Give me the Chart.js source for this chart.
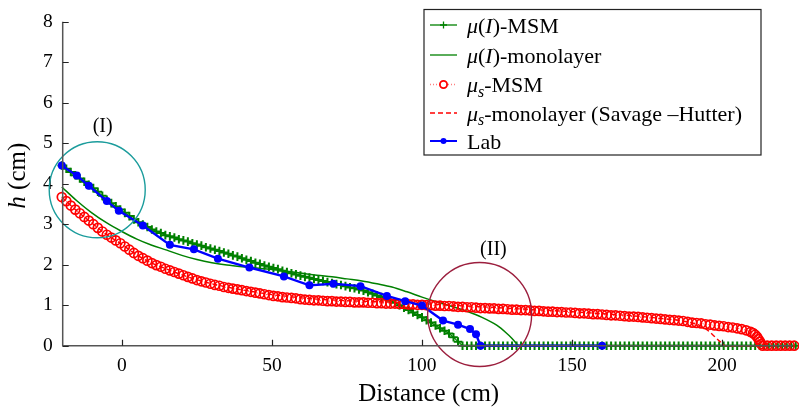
<!DOCTYPE html>
<html><head><meta charset="utf-8">
<script src="https://cdn.jsdelivr.net/npm/chart.js@4.4.1/dist/chart.umd.min.js"></script>
<style>html,body{margin:0;padding:0;background:#fff;overflow:hidden}</style>
</head><body>
<canvas id="c" width="799" height="408" style="width:799px;height:408px;display:block"></canvas>
<script>
// ---------- data ----------
const xTicks = [0, 50, 100, 150, 200];
const yTicks = [0, 1, 2, 3, 4, 5, 6, 7, 8];

// mu(I)-MSM
const muIMsmX = [
-20,-18.5,-17,-15.5,-14,-12.5,-11,-9.5,-8,-6.5,
-5,-3.5,-2,-0.5,1,2.5,4,5.5,7,8.5,
10,11.5,13,14.5,16,17.5,19,20.5,22,23.5,
25,26.5,28,29.5,31,32.5,34,35.5,37,38.5,
40,41.5,43,44.5,46,47.5,49,50.5,52,53.5,
55,56.5,58,59.5,61,62.5,64,65.5,67,68.5,
70,71.5,73,74.5,76,77.5,79,80.5,82,83.5,
85,86.5,88,89.5,91,92.5,94,95.5,97,98.5,
100,101.5,103,104.5,106,107.5,109,110.5,112,113.5,
115,116.5,118,119.5,121,122.5,124,125.5,127,128.5,
130,131.5,133,134.5,136,137.5,139,140.5,142,143.5,
145,146.5,148,149.5,151,152.5,154,155.5,157,158.5,
160,161.5,163,164.5,166,167.5,169,170.5,172,173.5,
175,176.5,178,179.5,181,182.5,184,185.5,187,188.5,
190,191.5,193,194.5,196,197.5,199,200.5,202,203.5,
205,206.5,208,209.5,211,212.5,214,215.5,217,218.5,
220,221.5,223,224.5];
const muIMsmY = [
4.45,4.37,4.29,4.21,4.13,4.05,3.97,3.89,3.80,3.70,
3.60,3.52,3.44,3.36,3.28,3.20,3.12,3.05,2.99,2.93,
2.87,2.82,2.78,2.73,2.70,2.67,2.63,2.60,2.57,2.53,
2.50,2.47,2.43,2.40,2.37,2.34,2.30,2.27,2.23,2.20,
2.16,2.12,2.09,2.05,2.02,1.98,1.95,1.92,1.89,1.85,
1.82,1.79,1.76,1.73,1.70,1.68,1.65,1.62,1.60,1.57,
1.55,1.52,1.50,1.47,1.44,1.42,1.39,1.36,1.32,1.28,
1.24,1.20,1.16,1.11,1.06,1.00,0.94,0.88,0.82,0.76,
0.70,0.63,0.57,0.50,0.43,0.37,0.30,0.21,0.10,0,
0,0,0,0,0,0,0,0,0,0,
0,0,0,0,0,0,0,0,0,0,
0,0,0,0,0,0,0,0,0,0,
0,0,0,0,0,0,0,0,0,0,
0,0,0,0,0,0,0,0,0,0,
0,0,0,0,0,0,0,0,0,0,
0,0,0,0,0,0,0,0,0,0,
0,0,0,0];

// mu(I)-monolayer
const muIMonoX = [-20,-15,-10,-5,0,5,10,15,20,25,30,35,40,45,50,55,60,65,70,75,80,85,90,95,100,105,110,115,120,125,128,130,131.5,132];
const muIMonoY = [3.92,3.58,3.28,3.03,2.82,2.63,2.48,2.36,2.23,2.13,2.05,1.99,1.95,1.92,1.88,1.84,1.79,1.74,1.70,1.65,1.60,1.53,1.45,1.33,1.20,1.08,0.97,0.85,0.70,0.50,0.32,0.18,0.05,0];

// mu_s-MSM
const muSMsmX = [
-20,-18.5,-17,-15.5,-14,-12.5,-11,-9.5,-8,-6.5,
-5,-3.5,-2,-0.5,1,2.5,4,5.5,7,8.5,
10,11.5,13,14.5,16,17.5,19,20.5,22,23.5,
25,26.5,28,29.5,31,32.5,34,35.5,37,38.5,
40,41.5,43,44.5,46,47.5,49,50.5,52,53.5,
55,56.5,58,59.5,61,62.5,64,65.5,67,68.5,
70,71.5,73,74.5,76,77.5,79,80.5,82,83.5,
85,86.5,88,89.5,91,92.5,94,95.5,97,98.5,
100,101.5,103,104.5,106,107.5,109,110.5,112,113.5,
115,116.5,118,119.5,121,122.5,124,125.5,127,128.5,
130,131.5,133,134.5,136,137.5,139,140.5,142,143.5,
145,146.5,148,149.5,151,152.5,154,155.5,157,158.5,
160,161.5,163,164.5,166,167.5,169,170.5,172,173.5,
175,176.5,178,179.5,181,182.5,184,185.5,187,188.5,
190,191.5,193,194.5,196,197.5,199,200.5,202,203.5,
205,206.5,208,209.5,210.3,211,211.6,212.1,212.6,213,
213.5,215,216.5,218,219.5,221,222.5,224];
const muSMsmY = [
3.67,3.57,3.46,3.36,3.27,3.18,3.09,3.00,2.91,2.82,
2.74,2.67,2.60,2.53,2.45,2.37,2.29,2.22,2.16,2.10,
2.04,1.99,1.95,1.90,1.86,1.82,1.78,1.74,1.70,1.66,
1.62,1.59,1.56,1.53,1.50,1.48,1.45,1.43,1.41,1.39,
1.37,1.35,1.33,1.31,1.29,1.27,1.25,1.23,1.22,1.20,
1.19,1.18,1.17,1.15,1.14,1.13,1.12,1.12,1.11,1.10,
1.10,1.09,1.09,1.08,1.08,1.07,1.07,1.07,1.06,1.06,
1.05,1.05,1.04,1.04,1.04,1.03,1.03,1.02,1.02,1.01,
1.01,1.00,1.00,0.99,0.99,0.98,0.98,0.97,0.96,0.96,
0.95,0.95,0.94,0.93,0.93,0.92,0.92,0.91,0.91,0.90,
0.89,0.89,0.88,0.88,0.87,0.86,0.86,0.85,0.84,0.84,
0.83,0.83,0.82,0.82,0.81,0.80,0.80,0.79,0.78,0.78,
0.77,0.76,0.75,0.75,0.74,0.73,0.72,0.72,0.71,0.70,
0.69,0.68,0.67,0.66,0.65,0.64,0.63,0.62,0.61,0.59,
0.57,0.56,0.55,0.53,0.52,0.50,0.49,0.48,0.46,0.45,
0.43,0.41,0.38,0.34,0.31,0.27,0.22,0.16,0.10,0.04,
0,0,0,0,0,0,0,0];

// mu_s-monolayer (Savage-Hutter)
const muSMonoX = [-20,-15,-10,-5,0,5,10,15,20,25,30,35,40,45,50,55,60,65,70,75,80,90,100,110,120,130,140,150,160,170,180,186,190,192.5,194.5,197,199.3,201,224];
const muSMonoY = [3.67,3.33,3.03,2.74,2.50,2.24,2.04,1.89,1.75,1.63,1.53,1.45,1.38,1.32,1.26,1.22,1.18,1.15,1.13,1.11,1.10,1.07,1.04,1.00,0.96,0.92,0.88,0.84,0.79,0.74,0.67,0.62,0.56,0.50,0.42,0.26,0.10,0,0];

// Lab
const labX = [-20,-15,-11,-5,-1,7,16,24,32,42.5,54,62.5,70.5,79.5,88.3,94.4,100,107,112,116,118,119.5,160];
const labY = [4.45,4.2,3.95,3.57,3.33,2.97,2.49,2.38,2.15,1.93,1.71,1.49,1.53,1.47,1.23,1.10,0.99,0.62,0.52,0.41,0.28,0,0];

// annotations
const annoLabels = ['(I)', '(II)'];
const annoCx = [-8.2, 119.2];
const annoCy = [3.85, 0.77];
const annoLx = [-6.4, 123.8];
const annoLy = [5.4, 2.37];

const legendLabels = [
  [{t:'μ',it:1},{t:'('},{t:'I',it:1},{t:')-MSM'}],
  [{t:'μ',it:1},{t:'('},{t:'I',it:1},{t:')-monolayer'}],
  [{t:'μ',it:1},{t:'s',it:1,sub:1},{t:'-MSM'}],
  [{t:'μ',it:1},{t:'s',it:1,sub:1},{t:'-monolayer (Savage'},{t:' –Hutter)'}],
  [{t:'Lab'}]
];

// ---------- styles ----------
const SERIF = '"Liberation Serif","Times New Roman",serif';
const GREEN = '#008000', RED = '#ff0000', BLUE = '#0000ff';
const AXIS = '#555555';
const annoColors = ['#1b9c9c', '#9c1f3e'];
const annoRadius = [48, 52];

const pts = (xs, ys) => xs.map((x, i) => ({x: x, y: ys[i]}));

function richText(ctx, x, y, segs, size) {
  let cx = x;
  ctx.textBaseline = 'alphabetic';
  ctx.textAlign = 'left';
  for (const s of segs) {
    const sz = s.sub ? size * 0.72 : size;
    ctx.font = (s.it ? 'italic ' : '') + sz + 'px ' + SERIF;
    ctx.fillText(s.t, cx, y + (s.sub ? size * 0.22 : 0));
    cx += ctx.measureText(s.t).width;
  }
  return cx;
}

const deco = {
  id: 'deco',
  afterDatasetsDraw(chart) {
    const ctx = chart.ctx, xs = chart.scales.x, ys = chart.scales.y;
    ctx.save();
    for (let i = 0; i < annoLabels.length; i++) {
      ctx.beginPath();
      ctx.strokeStyle = annoColors[i];
      ctx.lineWidth = 1.4;
      ctx.arc(xs.getPixelForValue(annoCx[i]), ys.getPixelForValue(annoCy[i]), annoRadius[i], 0, Math.PI * 2);
      ctx.stroke();
      ctx.fillStyle = '#000';
      ctx.font = '20px ' + SERIF;
      ctx.textAlign = 'center';
      ctx.textBaseline = 'middle';
      ctx.fillText(annoLabels[i], xs.getPixelForValue(annoLx[i]), ys.getPixelForValue(annoLy[i]));
    }
    ctx.restore();
  },
  afterDraw(chart) {
    const ctx = chart.ctx, xs = chart.scales.x, ys = chart.scales.y;
    const a = chart.chartArea;
    ctx.save();
    ctx.strokeStyle = AXIS;
    ctx.lineWidth = 1.5;
    ctx.beginPath();
    ctx.moveTo(a.left, ys.getPixelForValue(8));
    ctx.lineTo(a.left, a.bottom);
    ctx.lineTo(a.right, a.bottom);
    ctx.stroke();
    ctx.strokeStyle = '#222';
    ctx.lineWidth = 1.2;
    ctx.beginPath();
    for (const v of xTicks) {
      const px = Math.round(xs.getPixelForValue(v)) + 0.5;
      ctx.moveTo(px, a.bottom);
      ctx.lineTo(px, a.bottom - 6);
    }
    for (const v of yTicks) {
      const py = Math.round(ys.getPixelForValue(v)) + 0.5;
      ctx.moveTo(a.left, py);
      ctx.lineTo(a.left + 6, py);
    }
    ctx.stroke();

    ctx.fillStyle = '#000';
    ctx.font = '25px ' + SERIF;
    ctx.textAlign = 'center';
    ctx.textBaseline = 'alphabetic';
    ctx.fillText('Distance (cm)', (a.left + a.right) / 2 + 1, 401);
    ctx.save();
    ctx.translate(25, (a.top + a.bottom) / 2 - 8);
    ctx.rotate(-Math.PI / 2);
    ctx.font = 'italic 25px ' + SERIF;
    const wh = ctx.measureText('h').width;
    ctx.font = '25px ' + SERIF;
    const wr = ctx.measureText(' (cm)').width;
    const x0 = -(wh + wr) / 2;
    ctx.textAlign = 'left';
    ctx.font = 'italic 25px ' + SERIF;
    ctx.fillText('h', x0, 0);
    ctx.font = '25px ' + SERIF;
    ctx.fillText(' (cm)', x0 + wh, 0);
    ctx.restore();

    // legend
    const L = 424, T = 9.5, R = 761, B = 155;
    ctx.fillStyle = '#fff';
    ctx.fillRect(L, T, R - L, B - T);
    ctx.strokeStyle = '#222';
    ctx.lineWidth = 1.2;
    ctx.strokeRect(L, T, R - L, B - T);
    const rows = [25, 55, 84.5, 113, 141];
    const s0 = 430, s1 = 457, sm = 443.5;
    for (let i = 0; i < rows.length; i++) {
      const y = rows[i];
      ctx.save();
      ctx.lineWidth = 1.3;
      if (i === 0 || i === 1) ctx.strokeStyle = GREEN;
      if (i === 2 || i === 3) ctx.strokeStyle = RED;
      if (i === 4) { ctx.strokeStyle = BLUE; ctx.lineWidth = 2; }
      if (i === 2) { ctx.setLineDash([1, 2]); ctx.strokeStyle = '#ff8080'; }
      if (i === 3) ctx.setLineDash([5, 3]);
      ctx.beginPath();
      ctx.moveTo(s0, y); ctx.lineTo(s1, y);
      ctx.stroke();
      ctx.setLineDash([]);
      if (i === 0) {
        ctx.beginPath();
        ctx.moveTo(sm - 3.5, y); ctx.lineTo(sm + 3.5, y);
        ctx.moveTo(sm, y - 3.5); ctx.lineTo(sm, y + 3.5);
        ctx.stroke();
      }
      if (i === 2) {
        ctx.strokeStyle = RED;
        ctx.fillStyle = '#fff';
        ctx.lineWidth = 1.8;
        ctx.beginPath(); ctx.arc(sm, y, 3.6, 0, Math.PI * 2); ctx.fill(); ctx.stroke();
      }
      if (i === 4) {
        ctx.fillStyle = BLUE;
        ctx.beginPath(); ctx.arc(sm, y, 3, 0, Math.PI * 2); ctx.fill();
      }
      ctx.restore();
      ctx.fillStyle = '#000';
      richText(ctx, 467, y + 7.5, legendLabels[i], 22);
    }
    ctx.restore();
  }
};

new Chart(document.getElementById('c'), {
  type: 'line',
  data: {
    datasets: [
      { label: 'μ(I)-MSM', data: pts(muIMsmX, muIMsmY), order: 5, clip: false,
        borderColor: GREEN, borderWidth: 1.2, pointStyle: 'cross', pointRadius: 4.3,
        pointBorderColor: GREEN, pointBorderWidth: 2, pointBackgroundColor: GREEN },
      { label: 'μ(I)-monolayer', data: pts(muIMonoX, muIMonoY), order: 4, clip: false,
        borderColor: GREEN, borderWidth: 1.5, pointRadius: 0, cubicInterpolationMode: 'monotone' },
      { label: 'μs-MSM', data: pts(muSMsmX, muSMsmY), order: 3, clip: false,
        borderColor: RED, borderWidth: 0.8, borderDash: [1, 2], pointStyle: 'circle', pointRadius: 4.5,
        pointBorderColor: RED, pointBorderWidth: 1.7, pointBackgroundColor: 'rgba(255,255,255,0)' },
      { label: 'μs-monolayer (Savage–Hutter)', data: pts(muSMonoX, muSMonoY), order: 2, clip: false,
        borderColor: RED, borderWidth: 1.4, borderDash: [5, 3], pointRadius: 0, cubicInterpolationMode: 'monotone' },
      { label: 'Lab', data: pts(labX, labY), order: 1, clip: false,
        borderColor: BLUE, borderWidth: 2.4, pointStyle: 'circle', pointRadius: 4,
        pointBackgroundColor: BLUE, pointBorderColor: BLUE, pointBorderWidth: 0 }
    ]
  },
  options: {
    responsive: false,
    animation: false,
    devicePixelRatio: 1,
    layout: { padding: { top: 12.3, right: 0, left: 0, bottom: 0 } },
    plugins: { legend: { display: false }, tooltip: { enabled: false } },
    scales: {
      x: {
        type: 'linear', min: -19.7, max: 223.5,
        grid: { display: false, drawTicks: false }, border: { display: false },
        afterBuildTicks: s => { s.ticks = xTicks.map(v => ({ value: v })); },
        afterFit: s => { s.height = 62.3; },
        ticks: { color: '#000', font: { family: SERIF, size: 19.5 }, padding: 8, maxRotation: 0, autoSkip: false }
      },
      y: {
        type: 'linear', min: 0, max: 8,
        grid: { display: false, drawTicks: false }, border: { display: false },
        afterBuildTicks: s => { s.ticks = yTicks.map(v => ({ value: v })); },
        afterFit: s => { s.width = 62.7; },
        ticks: { color: '#000', font: { family: SERIF, size: 19.5 }, padding: 10, autoSkip: false }
      }
    }
  },
  plugins: [deco]
});
</script>
</body></html>
